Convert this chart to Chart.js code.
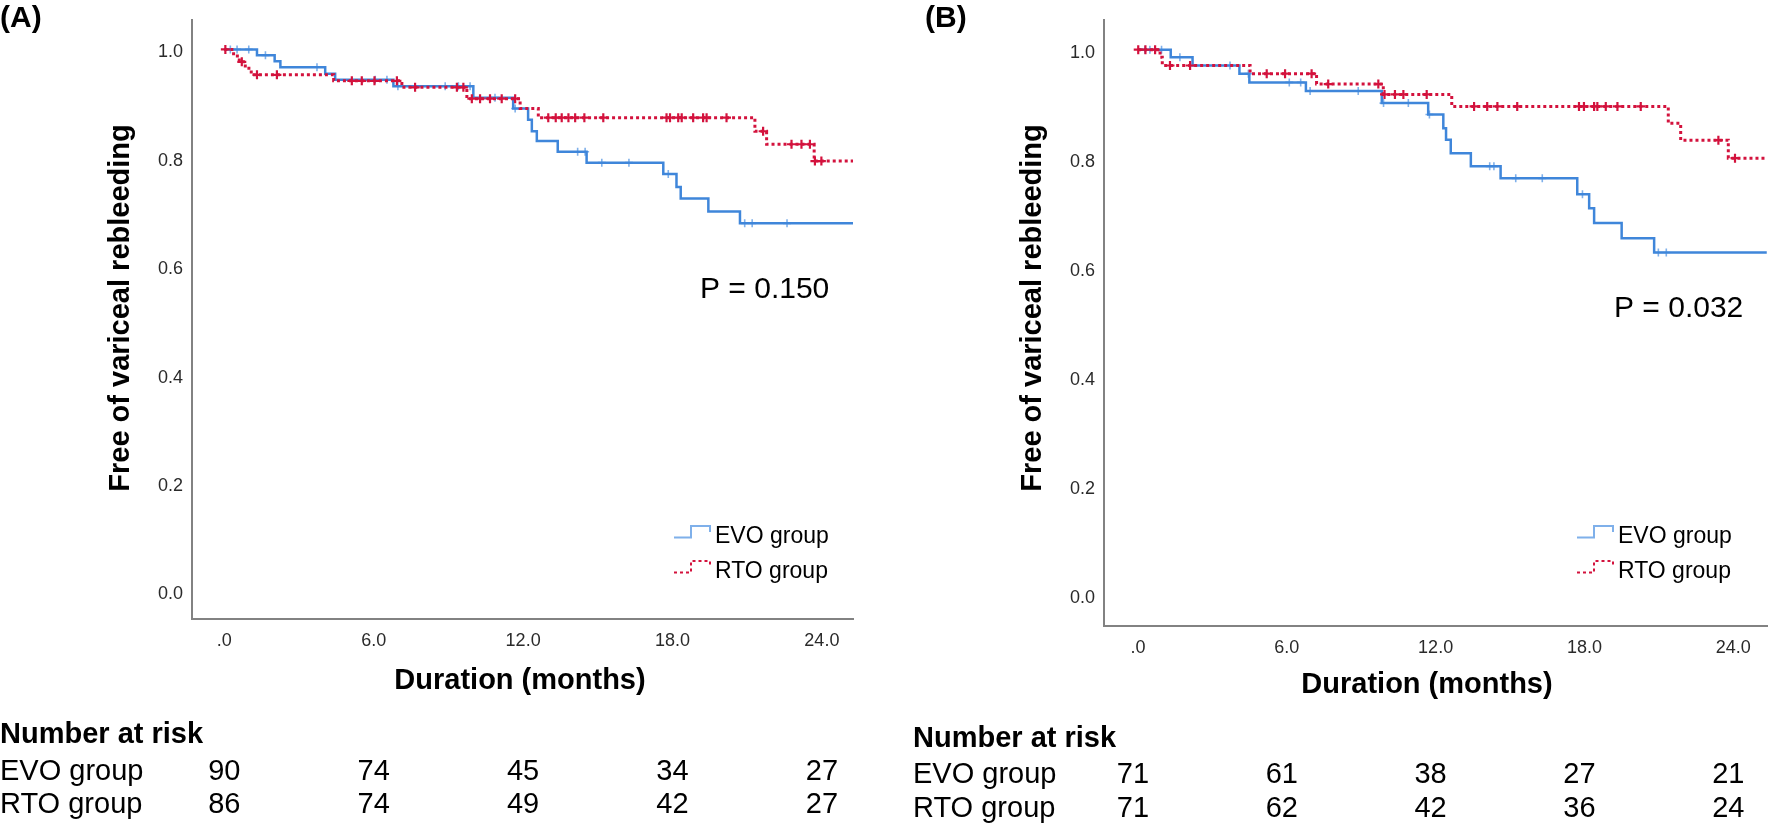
<!DOCTYPE html>
<html lang="en">
<head>
<meta charset="UTF-8">
<title>Free of variceal rebleeding: EVO vs RTO</title>
<script src="https://cdn.jsdelivr.net/npm/chart.js"></script>
<style>
  body { margin: 0; background: #fff; }
  #wrap { position: relative; width: 1769px; height: 824px; overflow: hidden; }
  #chartA { position: absolute; left: 0; top: 0; }
  #chartB { position: absolute; left: 880px; top: 0; }
</style>
</head>
<body>
<div id="wrap">
  <canvas id="chartA" width="870" height="824"></canvas>
  <canvas id="chartB" width="889" height="824"></canvas>
</div>
<script>
  const FONT = "'Liberation Sans', Arial, sans-serif";
  const BLUE = '#3f86da';
  const BLUE_LIGHT = '#7fb0ea';
  const RED = '#d3123d';
  const AXIS = '#828282';

  const xTicks = [0, 6, 12, 18, 24];
  const yTicks = [0, 0.2, 0.4, 0.6, 0.8, 1.0];
  const groups = ['EVO group', 'RTO group'];

  // Panel A: step times (months) and survival after each step, then censor times
  const evoTimesA = [0, 1.31, 2.02, 2.25, 4.05, 4.45, 6.79, 10.0, 11.6, 12.2, 12.35, 12.55, 13.39, 14.55, 17.63, 18.16, 18.33, 19.44, 20.71, 25.25];
  const evoSurvA  = [1, 0.989, 0.978, 0.967, 0.955, 0.944, 0.932, 0.911, 0.891, 0.870, 0.849, 0.831, 0.811, 0.791, 0.770, 0.746, 0.725, 0.701, 0.679, 0.679];
  const evoCensA  = [0.24, 0.51, 0.98, 1.65, 3.72, 6.06, 6.53, 6.97, 8.87, 9.4, 9.87, 10.87, 11.68, 14.19, 14.49, 15.16, 16.25, 17.83, 20.9, 21.2, 22.6];
  const rtoTimesA = [0, 0.37, 0.60, 0.84, 1.08, 4.39, 7.13, 9.74, 11.88, 12.61, 21.31, 21.78, 23.69, 25.25];
  const rtoSurvA  = [1, 0.988, 0.977, 0.965, 0.953, 0.942, 0.930, 0.909, 0.891, 0.874, 0.849, 0.825, 0.794, 0.794];
  const rtoCensA  = [0.04, 0.7, 1.31, 2.11, 5.12, 5.52, 6.03, 6.93, 7.66, 9.34, 9.6, 9.94, 10.27, 10.67, 11.14, 11.68, 13.01, 13.31, 13.55, 13.82, 14.09, 14.46, 15.22, 17.76, 17.9, 18.23, 18.37, 18.83, 19.23, 19.37, 20.17, 21.64, 22.78, 23.18, 23.52, 23.72, 23.98];

  // Panel B
  const evoTimesB = [0, 1.32, 2.2, 4.09, 4.49, 6.77, 9.83, 11.7, 12.31, 12.42, 12.61, 13.42, 14.62, 17.71, 18.19, 18.39, 19.5, 20.81, 25.35];
  const evoSurvB  = [1, 0.986, 0.971, 0.956, 0.940, 0.924, 0.902, 0.881, 0.856, 0.835, 0.810, 0.786, 0.764, 0.735, 0.709, 0.682, 0.654, 0.628, 0.628];
  const evoCensB  = [0.28, 0.48, 0.95, 1.69, 3.71, 4.45, 6.1, 6.56, 6.94, 8.88, 9.9, 10.9, 11.75, 14.18, 14.35, 15.23, 16.3, 17.92, 20.98, 21.3];
  const rtoTimesB = [0, 0.89, 0.98, 4.52, 7.2, 9.89, 12.65, 21.38, 21.88, 23.8, 25.35];
  const rtoSurvB  = [1, 0.986, 0.971, 0.956, 0.937, 0.918, 0.896, 0.865, 0.834, 0.801, 0.801];
  const rtoCensB  = [0.01, 0.3, 0.69, 1.29, 2.1, 5.19, 5.93, 7.0, 7.67, 9.69, 9.94, 10.36, 10.7, 11.64, 13.55, 14.08, 14.49, 15.29, 17.78, 17.98, 18.39, 18.52, 18.86, 19.33, 20.27, 23.4, 24.07];

  // Number at risk at 0, 6, 12, 18, 24 months
  const riskEvoA = [90, 74, 45, 34, 27];
  const riskRtoA = [86, 74, 49, 42, 27];
  const riskEvoB = [71, 61, 38, 27, 21];
  const riskRtoB = [71, 62, 42, 36, 24];

  function stepPoints(times, surv) {
    return times.map((t, i) => ({ x: t, y: surv[i] }));
  }

  // censor mark sits on the curve: value of the last step at or before t
  function survAt(times, surv, t) {
    let v = surv[0];
    for (let i = 0; i < times.length; i++) if (times[i] <= t) v = surv[i];
    return v;
  }

  function censorPoints(times, surv, cens) {
    return cens.map(t => ({ x: t, y: survAt(times, surv, t) }));
  }

  // texts and legend drawn around the plot
  const kmText = {
    id: 'kmText',
    afterDraw(chart, args, o) {
      const ctx = chart.ctx;
      const xs = chart.scales.x;
      ctx.save();
      ctx.fillStyle = '#000';
      ctx.textBaseline = 'alphabetic';

      ctx.font = 'bold 30px ' + FONT;
      ctx.textAlign = 'left';
      ctx.fillText(o.letter, o.letterX, 27);

      ctx.save();
      ctx.translate(o.yTitleX, 308);
      ctx.rotate(-Math.PI / 2);
      ctx.textAlign = 'center';
      ctx.textBaseline = 'middle';
      ctx.font = 'bold 29px ' + FONT;
      ctx.fillText('Free of variceal rebleeding', 0, 0);
      ctx.restore();

      ctx.textAlign = 'center';
      ctx.font = 'bold 29px ' + FONT;
      ctx.fillText('Duration (months)', o.xTitleX, o.xTitleY);

      ctx.textAlign = 'left';
      ctx.font = '30px ' + FONT;
      ctx.fillText(o.pText, o.pX, o.pY);

      // legend with little step glyphs
      ctx.font = '23px ' + FONT;
      const L = o.legX;
      [543, 578].forEach((b, i) => {
        ctx.save();
        ctx.strokeStyle = i === 0 ? BLUE_LIGHT : RED;
        ctx.lineWidth = 2;
        if (i === 1) ctx.setLineDash([3, 3]);
        ctx.beginPath();
        ctx.moveTo(L, b - 5.5);
        ctx.lineTo(L + 17, b - 5.5);
        ctx.lineTo(L + 17, b - 17);
        ctx.lineTo(L + 36, b - 17);
        ctx.lineTo(L + 36, b - 11);
        ctx.stroke();
        ctx.restore();
        ctx.fillText(groups[i], L + 41, b);
      });

      // number at risk table
      ctx.font = 'bold 29px ' + FONT;
      ctx.fillText('Number at risk', o.riskX, o.riskY[0]);
      ctx.font = '29px ' + FONT;
      [o.riskEvo, o.riskRto].forEach((row, r) => {
        ctx.textAlign = 'left';
        ctx.fillText(groups[r], o.riskX, o.riskY[r + 1]);
        ctx.textAlign = 'center';
        row.forEach((n, i) => ctx.fillText(String(n), xs.getPixelForValue(xTicks[i]) + o.riskShift, o.riskY[r + 1]));
      });
      ctx.restore();
    }
  };

  function makeChart(id, p) {
    return new Chart(document.getElementById(id), {
      type: 'line',
      data: {
        datasets: [
          { data: stepPoints(p.rtoT, p.rtoS), stepped: true, borderColor: RED, borderWidth: 3, borderDash: [3, 3], pointRadius: 0, fill: false, order: 0 },
          { data: censorPoints(p.rtoT, p.rtoS, p.rtoC), showLine: false, pointStyle: 'cross', pointRadius: 4.5, borderColor: RED, borderWidth: 2.2, order: 0 },
          { data: stepPoints(p.evoT, p.evoS), stepped: true, borderColor: BLUE, borderWidth: 2.5, pointRadius: 0, fill: false, order: 1 },
          { data: censorPoints(p.evoT, p.evoS, p.evoC), showLine: false, pointStyle: 'cross', pointRadius: 4, borderColor: BLUE_LIGHT, borderWidth: 1.6, order: 1 }
        ]
      },
      options: {
        responsive: false,
        animation: false,
        layout: { autoPadding: false, padding: { left: 0, top: p.top, right: p.right, bottom: 0 } },
        scales: {
          x: {
            type: 'linear', min: p.xMin, max: p.xMax,
            afterFit: s => { s.height = p.xHeight; },
            afterBuildTicks: s => { s.ticks = xTicks.map(v => ({ value: v })); },
            grid: { display: false, drawTicks: false },
            border: { display: true, color: AXIS, width: 2 },
            ticks: { padding: 11, color: '#2a2a2a', font: { size: 18, family: FONT }, maxRotation: 0,
                     callback: v => v === 0 ? '.0' : v.toFixed(1) }
          },
          y: {
            type: 'linear', min: p.yMin, max: p.yMax,
            afterFit: s => { s.width = p.yWidth; },
            afterBuildTicks: s => { s.ticks = yTicks.map(v => ({ value: v })); },
            grid: { display: false, drawTicks: false },
            border: { display: true, color: AXIS, width: 2 },
            ticks: { padding: 9, labelOffset: 3, color: '#2a2a2a', font: { size: 18, family: FONT },
                     callback: v => v.toFixed(1) }
          }
        },
        plugins: {
          legend: { display: false },
          tooltip: { enabled: false },
          kmText: p.text
        }
      },
      plugins: [kmText]
    });
  }

  makeChart('chartA', {
    evoT: evoTimesA, evoS: evoSurvA, evoC: evoCensA,
    rtoT: rtoTimesA, rtoS: rtoSurvA, rtoC: rtoCensA,
    xMin: -1.3, xMax: 25.25, yMin: -0.051, yMax: 1.0546,
    top: 12, right: 17, yWidth: 192, xHeight: 205,
    text: { letter: '(A)', letterX: 0, yTitleX: 121, xTitleX: 520, xTitleY: 689,
            pText: 'P = 0.150', pX: 700, pY: 298, legX: 674,
            riskX: 0, riskY: [743, 780, 813], riskShift: 0,
            riskEvo: riskEvoA, riskRto: riskRtoA }
  });

  makeChart('chartB', {
    evoT: evoTimesB, evoS: evoSurvB, evoC: evoCensB,
    rtoT: rtoTimesB, rtoS: rtoSurvB, rtoC: rtoCensB,
    xMin: -1.37, xMax: 25.36, yMin: -0.057, yMax: 1.0548,
    top: 18, right: 2, yWidth: 224, xHeight: 198,
    text: { letter: '(B)', letterX: 45, yTitleX: 153, xTitleX: 547, xTitleY: 693,
            pText: 'P = 0.032', pX: 734, pY: 317, legX: 697,
            riskX: 33, riskY: [747, 783, 817], riskShift: -5,
            riskEvo: riskEvoB, riskRto: riskRtoB }
  });
</script>
</body>
</html>
